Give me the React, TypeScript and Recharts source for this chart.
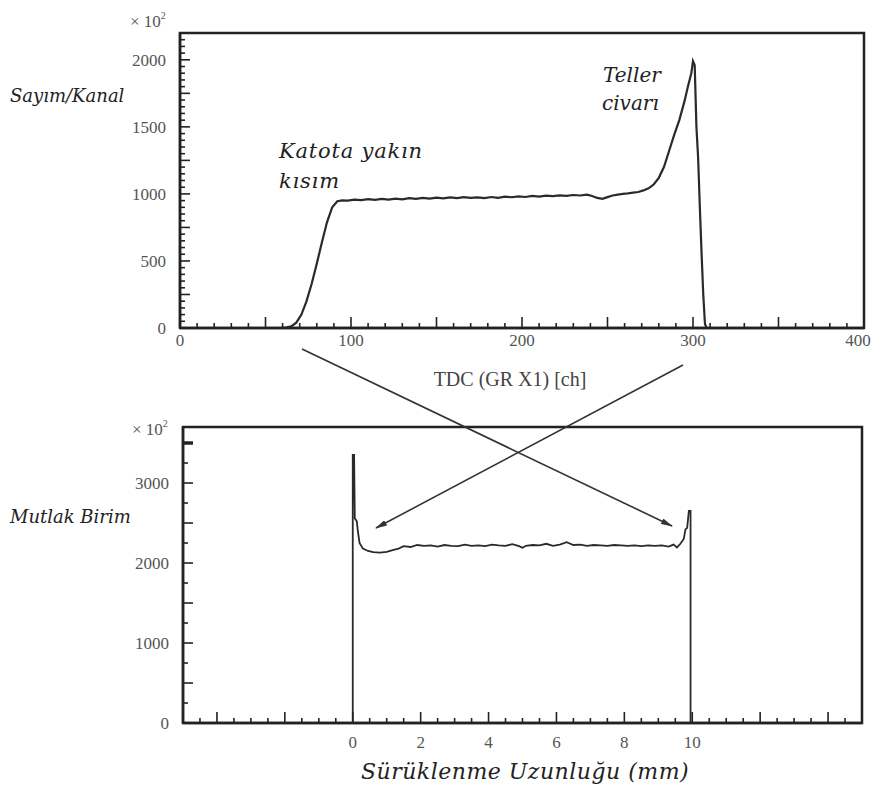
import { LineChart, Line, XAxis, YAxis, ReferenceArea } from "recharts";

// TDC spectrum (upper panel): channel vs counts (x10^2)
const TDC_CH = [
  58, 62, 65, 68, 71, 74, 77, 80, 83, 86, 89, 92, 95, 98, 102, 106, 110, 114, 118, 122, 126, 130, 134, 138,
  142, 146, 150, 154, 158, 162, 166, 170, 174, 178, 182, 186, 190, 194, 198, 202, 206, 210, 214, 218, 222,
  226, 230, 234, 238, 241, 244, 247, 250, 253, 256, 259, 262, 265, 268, 271, 274, 277, 280, 283, 286, 289,
  292, 295, 297, 299, 300, 301, 302, 303, 304, 305, 306, 307, 308,
];
const TDC_COUNTS = [
  0, 3, 12, 40, 100, 200, 330, 480, 640, 790, 900, 945, 952, 950, 958, 953, 961, 956, 963, 958, 965, 960, 968,
  963, 970, 965, 972, 967, 974, 968, 976, 970, 974, 968, 977, 971, 979, 975, 982, 977, 985, 980, 987, 983,
  989, 985, 992, 988, 994, 984, 970, 963, 976, 988, 995, 1000, 1004, 1010, 1014, 1026, 1042, 1070, 1120,
  1200, 1320, 1440, 1550, 1690, 1800, 1900, 1990, 1960, 1500, 1270, 900, 560, 250, 30, 0,
];

// Drift length distribution (lower panel): mm vs arbitrary units (x10^2)
const DRIFT_MM = [
  0, 0, 0.04, 0.06, 0.12, 0.15, 0.2, 0.3, 0.45, 0.6, 0.8, 1.0, 1.2, 1.35, 1.5, 1.7, 1.9, 2.1, 2.3, 2.5, 2.7,
  2.9, 3.1, 3.3, 3.5, 3.7, 3.9, 4.1, 4.3, 4.5, 4.7, 4.9, 5.0, 5.1, 5.3, 5.5, 5.7, 5.9, 6.1, 6.3, 6.5, 6.7,
  6.9, 7.1, 7.3, 7.5, 7.7, 7.9, 8.1, 8.3, 8.5, 8.7, 8.9, 9.1, 9.3, 9.45, 9.55, 9.65, 9.75, 9.8, 9.85, 9.9,
  9.95, 9.95,
];
const DRIFT_UNITS = [
  0, 3350, 3350, 2560, 2520, 2400, 2250, 2180, 2150, 2135, 2130, 2140, 2165, 2180, 2210, 2200, 2225, 2215,
  2220, 2205, 2225, 2215, 2210, 2230, 2215, 2220, 2210, 2230, 2220, 2215, 2235, 2210, 2190, 2215, 2225,
  2220, 2240, 2215, 2230, 2260, 2225, 2230, 2215, 2225, 2220, 2215, 2225, 2220, 2215, 2220, 2210, 2220,
  2215, 2220, 2205, 2230, 2195, 2240, 2300, 2420, 2440, 2650, 2650, 0,
];

const TOP_X_LABELS = [0, 100, 200, 300, 400];
const TOP_Y_LABELS = [0, 500, 1000, 1500, 2000];
const BOT_X_LABELS = [0, 2, 4, 6, 8, 10];
const BOT_Y_LABELS = [0, 1000, 2000, 3000];

const topData = TDC_CH.map((ch, i) => ({ ch, n: TDC_COUNTS[i] }));
const botData = DRIFT_MM.map((mm, i) => ({ mm, n: DRIFT_UNITS[i] }));

const range = (from: number, to: number, step: number) => {
  const out: number[] = [];
  for (let i = 0; from + i * step <= to + 1e-9; i++) out.push(+(from + i * step).toFixed(4));
  return out;
};
const isMult = (v: number, m: number) => Math.abs(v / m - Math.round(v / m)) < 1e-6;

const SERIF = '"Liberation Serif", "Times New Roman", serif';
const ISERIF = '"DejaVu Serif", "Liberation Serif", serif';
const INK = "#222";
const LABEL = "#555";

// ticks point into the plot, labels only on the listed values
function xTick(labels: number[], majorEvery: number, dy: number, lastShift = 0) {
  const last = labels[labels.length - 1];
  return (p: any) => {
    const v = p.payload.value;
    const len = isMult(v, majorEvery) ? 11 : 5;
    return (
      <g>
        <line x1={p.x} x2={p.x} y1={p.y} y2={p.y - len} stroke={INK} strokeWidth={1.6} />
        {labels.includes(v) && (
          <text x={p.x - (v === last ? lastShift : 0)} y={p.y + dy} textAnchor="middle" fill={LABEL} fontSize={17} fontFamily={SERIF}>
            {v}
          </text>
        )}
      </g>
    );
  };
}

function yTick(labels: number[], majorEvery: number, thick?: number) {
  return (p: any) => {
    const v = p.payload.value;
    const len = isMult(v, majorEvery) ? 10 : 5;
    return (
      <g>
        <line x1={p.x} x2={p.x + (v === thick ? 10 : len)} y1={p.y} y2={p.y} stroke={INK} strokeWidth={v === thick ? 3.5 : 1.6} />
        {labels.includes(v) && (
          <text x={p.x - 14} y={p.y + 6} textAnchor="end" fill={LABEL} fontSize={17} fontFamily={SERIF}>
            {v}
          </text>
        )}
      </g>
    );
  };
}

function Arrow({ x1, y1, x2, y2 }: { x1: number; y1: number; x2: number; y2: number }) {
  return <line x1={x1} y1={y1} x2={x2} y2={y2} stroke="#333" strokeWidth={1.6} markerEnd="url(#head)" />;
}

function Times10({ x, y }: { x: number; y: number }) {
  return (
    <text x={x} y={y} fill={LABEL} fontSize={17} fontFamily={SERIF}>
      × 10<tspan dy={-8} fontSize={10}>2</tspan>
    </text>
  );
}

export default function App() {
  return (
    <div style={{ position: "absolute", left: 0, top: 0, width: 872, height: 787, background: "#fff" }}>
      <div style={{ position: "absolute", left: 0, top: 0 }}>
        <LineChart width={872} height={400} data={topData} margin={{ top: 33, right: 8, bottom: 42, left: 120 }}>
          <XAxis
            dataKey="ch"
            type="number"
            domain={[0, 400]}
            ticks={range(0, 400, 10)}
            interval={0}
            height={30}
            tickSize={0}
            tickMargin={0}
            tick={xTick(TOP_X_LABELS, 50, 18, 6)}
            axisLine={{ stroke: INK, strokeWidth: 2.5 }}
          />
          <YAxis
            type="number"
            domain={[0, 2200]}
            ticks={range(0, 2200, 50)}
            interval={0}
            width={60}
            tickSize={0}
            tickMargin={0}
            tick={yTick(TOP_Y_LABELS, 250)}
            axisLine={{ stroke: INK, strokeWidth: 2.5 }}
          />
          <ReferenceArea x1={0} x2={400} y1={0} y2={2200} fill="none" stroke={INK} strokeWidth={2.5} />
          <Line type="linear" dataKey="n" stroke="#2a2a2a" strokeWidth={2.2} dot={false} isAnimationActive={false} />
        </LineChart>
      </div>
      <div style={{ position: "absolute", left: 0, top: 400 }}>
        <LineChart width={872} height={387} data={botData} margin={{ top: 27, right: 10, bottom: 34, left: 123 }}>
          <XAxis
            dataKey="mm"
            type="number"
            domain={[-5, 15]}
            ticks={range(-5, 15, 0.5)}
            interval={0}
            height={30}
            tickSize={0}
            tickMargin={0}
            tick={xTick(BOT_X_LABELS, 2, 25)}
            axisLine={{ stroke: INK, strokeWidth: 2.5 }}
          />
          <YAxis
            type="number"
            domain={[0, 3700]}
            ticks={range(0, 3500, 250)}
            interval={0}
            width={60}
            tickSize={0}
            tickMargin={0}
            tick={yTick(BOT_Y_LABELS, 500, 3500)}
            axisLine={{ stroke: INK, strokeWidth: 2.5 }}
          />
          <ReferenceArea x1={-5} x2={15} y1={0} y2={3700} fill="none" stroke={INK} strokeWidth={2.5} />
          <Line type="linear" dataKey="n" stroke="#2a2a2a" strokeWidth={1.8} dot={false} isAnimationActive={false} />
        </LineChart>
      </div>
      <svg width={872} height={787} style={{ position: "absolute", left: 0, top: 0, pointerEvents: "none" }}>
        <defs>
          <marker id="head" viewBox="0 0 12 6" refX={11} refY={3} markerWidth={12} markerHeight={6} markerUnits="userSpaceOnUse" orient="auto">
            <path d="M0,0 L12,3 L0,6 z" fill="#333" />
          </marker>
        </defs>
        <Arrow x1={302} y1={349} x2={672} y2={526} />
        <Arrow x1={683} y1={365} x2={376} y2={528} />

        <Times10 x={130} y={27} />
        <Times10 x={132} y={435} />
        <text x={10} y={102} fill={INK} fontSize={18} fontStyle="italic" fontFamily={ISERIF}>Sayım/Kanal</text>
        <text x={10} y={523} fill={INK} fontSize={18} fontStyle="italic" fontFamily={ISERIF}>Mutlak Birim</text>
        <text x={279} y={158} fill={INK} fontSize={21} letterSpacing={0.8} fontStyle="italic" fontFamily={ISERIF}>Katota yakın</text>
        <text x={279} y={188} fill={INK} fontSize={21} letterSpacing={0.8} fontStyle="italic" fontFamily={ISERIF}>kısım</text>
        <text x={603} y={82} fill={INK} fontSize={20} fontStyle="italic" fontFamily={ISERIF}>Teller</text>
        <text x={602} y={110} fill={INK} fontSize={20} fontStyle="italic" fontFamily={ISERIF}>civarı</text>
        <text x={510} y={386} textAnchor="middle" fill="#444" fontSize={20} fontFamily={SERIF}>TDC (GR X1) [ch]</text>
        <text x={525} y={779} textAnchor="middle" fill={INK} fontSize={22} letterSpacing={0.5} fontStyle="italic" fontFamily={ISERIF}>
          Sürüklenme Uzunluğu (mm)
        </text>
      </svg>
    </div>
  );
}
